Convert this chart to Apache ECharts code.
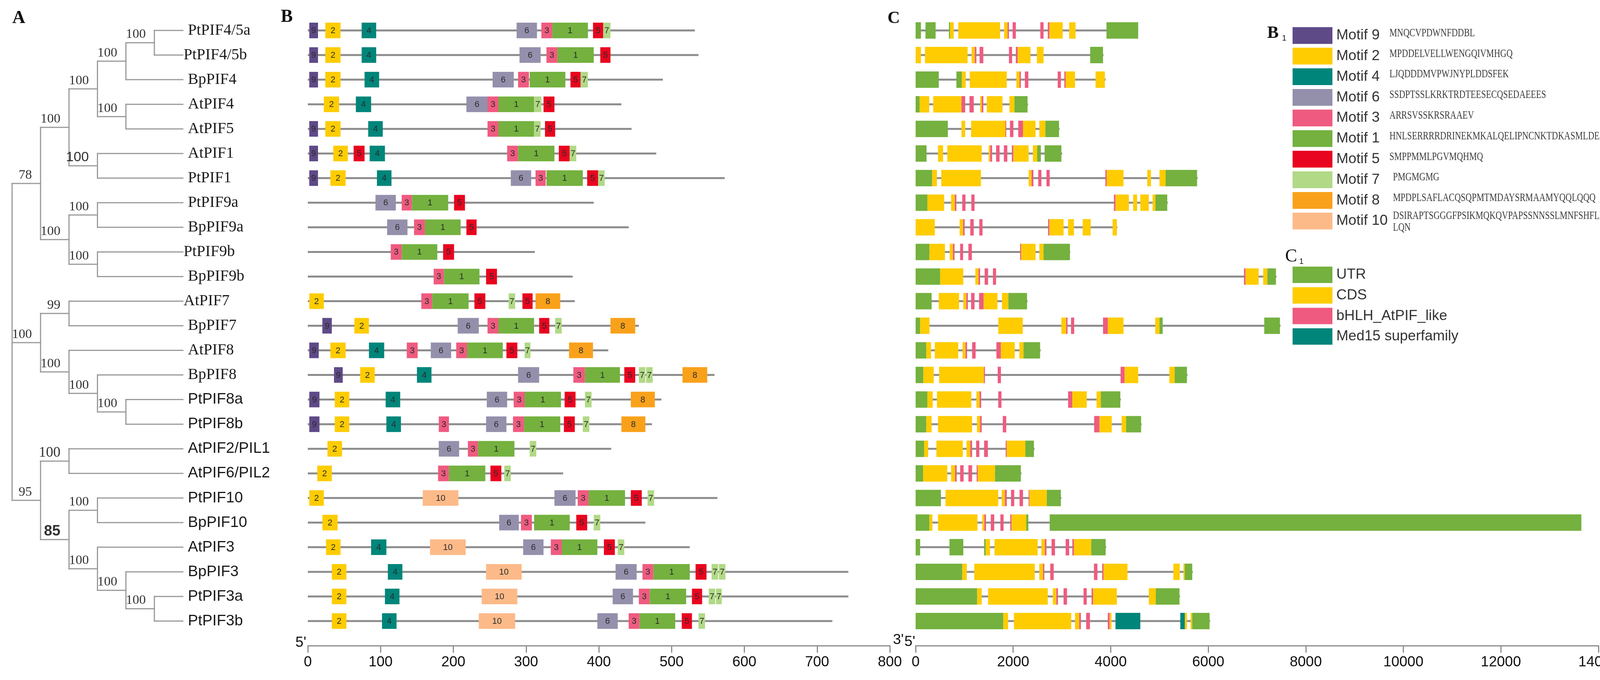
<!DOCTYPE html>
<html>
<head>
<meta charset="utf-8">
<title>PIF family: tree, motifs and gene structure</title>
<script src="https://cdn.jsdelivr.net/npm/echarts@6/dist/echarts.min.js"></script>
<style>
html,body{margin:0;padding:0;background:#fff;}
#chart{width:4310px;height:1742px;}
</style>
</head>
<body>
<div id="chart"></div>
<script>
// ---------------- data ----------------
var geneNames = ['PtPIF4/5a','PtPIF4/5b','BpPIF4','AtPIF4','AtPIF5','AtPIF1','PtPIF1',
	'PtPIF9a','BpPIF9a','PtPIF9b','BpPIF9b','AtPIF7','BpPIF7','AtPIF8','BpPIF8',
	'PtPIF8a','PtPIF8b','AtPIF2/PIL1','AtPIF6/PIL2','PtPIF10','BpPIF10','AtPIF3',
	'BpPIF3','PtPIF3a','PtPIF3b'];

// protein length (aa)
var proteinLength = [532,537,488,431,445,479,573,393,441,312,364,367,455,413,559,486,473,417,351,563,464,525,743,743,721];

// motifs per protein: [motif, start, end] (aa)
var proteinMotifs = [
	[[9,2,14],[2,24,45],[4,74,94],[6,287,315],[3,321,336],[1,336,385],[5,392,406],[7,406,416]],
	[[9,2,14],[2,24,45],[4,74,94],[6,291,320],[3,328,343],[1,343,393],[5,402,416]],
	[[9,2,14],[2,24,45],[4,78,98],[6,254,283],[3,289,304],[1,305,354],[5,361,375],[7,375,385]],
	[[2,22,43],[4,66,87],[6,218,247],[3,247,262],[1,262,311],[7,311,321],[5,324,339]],
	[[9,2,14],[2,24,45],[4,83,103],[3,247,262],[1,262,311],[7,311,320],[5,326,340]],
	[[9,2,14],[2,35,55],[5,63,78],[4,85,106],[3,274,289],[1,289,339],[5,345,360],[7,360,369]],
	[[9,2,14],[2,31,52],[4,95,115],[6,279,307],[3,313,327],[1,328,378],[5,384,399],[7,399,408]],
	[[6,93,121],[3,129,143],[1,143,193],[5,201,216]],
	[[6,109,137],[3,146,161],[1,161,210],[5,218,232]],
	[[3,114,129],[1,129,178],[5,186,201]],
	[[3,173,187],[1,187,236],[5,245,260]],
	[[2,2,22],[3,156,171],[1,171,221],[5,229,244],[7,276,285],[5,295,309],[8,313,347]],
	[[9,20,33],[2,64,84],[6,206,235],[3,247,262],[1,262,311],[5,318,332],[7,340,349],[8,416,450]],
	[[9,2,15],[2,31,52],[4,84,105],[3,136,151],[6,169,197],[3,204,219],[1,219,268],[5,273,288],[7,298,306],[8,359,392]],
	[[9,36,48],[2,72,92],[4,150,170],[6,289,318],[3,365,381],[1,381,429],[5,435,450],[7,455,464],[7,465,474],[8,515,549]],
	[[9,2,16],[2,37,57],[4,107,127],[6,246,274],[3,283,298],[1,298,348],[5,353,368],[7,381,390],[8,444,477]],
	[[9,2,16],[2,37,57],[4,108,128],[3,180,194],[6,245,273],[3,282,297],[1,297,347],[5,352,367],[7,378,387],[8,431,464]],
	[[2,27,47],[6,180,208],[3,220,234],[1,234,284],[7,305,314]],
	[[2,13,33],[3,179,194],[1,194,244],[5,251,266],[7,270,279]],
	[[2,2,22],[10,158,207],[6,339,368],[3,371,386],[1,386,436],[5,444,459],[7,467,476]],
	[[2,20,41],[6,263,290],[3,293,308],[1,311,360],[5,369,384],[7,393,402]],
	[[2,25,45],[4,87,108],[10,168,217],[6,296,324],[3,334,349],[1,349,398],[5,407,422],[7,426,435]],
	[[2,33,53],[4,110,130],[10,245,294],[6,423,452],[3,460,475],[1,475,525],[5,533,548],[7,555,564],[7,565,574]],
	[[2,33,53],[4,106,126],[10,239,288],[6,419,447],[3,455,470],[1,470,520],[5,528,542],[7,551,560],[7,561,569]],
	[[2,33,53],[4,102,122],[10,235,285],[6,398,426],[3,441,456],[1,456,505],[5,514,528],[7,537,546]]
];

// gene length (bp)
var geneLength = [4563,3852,3896,2306,2951,3005,5782,5170,4136,3170,7399,2295,7481,2563,5574,4208,4634,2437,2169,2989,13650,3907,5683,5421,6038];

// gene parts: [type, start, end] (bp); type 0 UTR, 1 CDS, 2 bHLH_AtPIF_like, 3 Med15
var geneParts = [
	[[0,0,109],[0,202,410],[0,683,705],[1,705,781],[1,874,1732],[1,1814,1885],[2,1885,1913],[2,1989,2055],[2,2557,2623],[2,2710,2743],[1,2743,3016],[1,3148,3279],[0,3913,4563]],
	[[1,0,109],[1,191,1066],[1,1148,1213],[2,1213,1246],[2,1311,1388],[2,1913,1978],[2,2055,2093],[1,2093,2355],[1,2486,2623],[0,3579,3842]],
	[[0,0,475],[0,836,945],[1,945,1027],[1,1109,1869],[1,2066,2131],[2,2131,2158],[2,2240,2311],[2,2913,2978],[2,3049,3077],[1,3077,3268],[1,3689,3880]],
	[[0,0,82],[1,82,279],[1,361,940],[2,940,1016],[2,1104,1191],[1,1322,1355],[2,1355,1388],[1,1459,1781],[1,1923,2027],[0,2027,2295]],
	[[0,0,661],[1,940,1016],[1,1137,1842],[2,1842,1858],[2,1934,2005],[2,2104,2202],[1,2202,2459],[1,2536,2661],[0,2661,2940]],
	[[0,0,224],[1,459,563],[1,650,1355],[1,1497,1530],[2,1530,1568],[2,1650,1721],[2,1809,1880],[2,1973,2005],[1,2005,2317],[1,2404,2492],[0,2492,2568],[0,2645,2989]],
	[[0,0,339],[1,339,437],[1,525,1339],[1,2317,2377],[2,2377,2415],[2,2514,2579],[2,2683,2749],[2,3891,3918],[1,3918,4262],[1,4749,4825],[1,5000,5126],[0,5126,5771]],
	[[0,0,240],[1,240,585],[1,727,803],[2,803,836],[2,956,1022],[2,1142,1208],[2,4066,4098],[1,4098,4372],[1,4459,4541],[1,4607,4781],[1,4858,4918],[0,4918,5159]],
	[[1,0,393],[1,902,973],[2,973,1005],[2,1120,1191],[2,1306,1372],[2,2716,2743],[1,2743,3033],[1,3126,3246],[1,3426,3590],[1,4038,4126]],
	[[0,0,284],[1,284,601],[1,699,765],[2,765,798],[2,913,973],[2,1082,1153],[2,2142,2164],[1,2164,2459],[1,2536,2623],[0,2623,3164]],
	[[0,0,503],[1,503,978],[1,1224,1290],[2,1290,1322],[2,1415,1486],[2,1585,1650],[2,6732,6765],[1,6765,7033],[1,7126,7213],[0,7213,7388]],
	[[0,0,328],[1,475,891],[1,978,1038],[2,1038,1071],[2,1137,1208],[2,1301,1393],[1,1393,1678],[1,1770,1902],[0,1902,2284]],
	[[0,0,93],[1,93,284],[1,1694,2197],[1,2989,3087],[2,3087,3115],[2,3186,3251],[2,3842,3940],[1,3940,4262],[1,4913,5000],[0,5000,5066],[0,7148,7470]],
	[[0,0,219],[1,219,317],[1,393,874],[1,962,1022],[2,1022,1055],[2,1158,1230],[2,1656,1749],[1,1749,2033],[1,2126,2213],[0,2213,2552]],
	[[0,0,158],[1,158,372],[1,481,1399],[2,1399,1421],[2,1683,1749],[2,4202,4284],[1,4284,4563],[1,5202,5311],[0,5311,5563]],
	[[0,0,240],[1,240,350],[1,437,1142],[1,1246,1311],[2,1311,1344],[2,1694,1760],[2,3126,3213],[1,3213,3508],[1,3710,3798],[0,3798,4197]],
	[[0,0,219],[1,219,328],[1,459,1158],[1,1257,1322],[2,1322,1355],[2,1787,1858],[2,3661,3770],[1,3770,4022],[1,4224,4317],[0,4317,4623]],
	[[0,0,175],[1,175,257],[1,426,967],[1,1044,1120],[2,1120,1158],[2,1240,1306],[2,1404,1481],[2,1847,1869],[1,1869,2251],[0,2251,2426]],
	[[0,0,153],[1,153,650],[1,727,809],[2,809,842],[2,913,984],[2,1082,1158],[2,1251,1273],[1,1273,1628],[0,1628,2158]],
	[[0,0,519],[1,612,1694],[1,1765,1831],[2,1831,1869],[2,1956,2022],[2,2131,2202],[2,2317,2333],[1,2333,2689],[0,2689,2978]],
	[[0,0,284],[1,284,344],[1,459,1268],[1,1366,1410],[2,1410,1443],[2,1541,1612],[2,1738,1803],[2,1940,1967],[1,1967,2268],[0,2268,2311],[0,2749,13650]],
	[[0,0,93],[0,694,978],[0,1404,1437],[1,1437,1525],[1,1617,2503],[1,2579,2650],[2,2650,2683],[2,2787,2858],[2,3076,3148],[2,3213,3246],[1,3246,3601],[0,3601,3896]],
	[[0,0,956],[1,956,1049],[1,1202,2443],[1,2536,2612],[2,2612,2639],[2,2760,2831],[2,3656,3727],[2,3825,3852],[1,3852,4344],[1,5284,5415],[1,5492,5519],[0,5519,5672]],
	[[0,0,1262],[1,1262,1355],[1,1486,2710],[1,2814,2885],[2,2885,2918],[2,3033,3104],[2,3443,3508],[2,3607,3639],[1,3639,4126],[1,4781,4924],[0,4924,5410]],
	[[0,0,1798],[1,1798,1896],[1,2016,3191],[1,3268,3355],[2,3355,3388],[2,3497,3574],[2,3940,3978],[1,3978,4016],[3,4098,4607],[3,5426,5519],[1,5519,5563],[1,5639,5672],[0,5672,6027]]
];

// tree: [clade, depth level, bootstrap, children]; numbers are rows of geneNames
var treeClades = [
	['n1', 5, 100, [0, 1]],
	['n2', 4, 100, ['n1', 2]],
	['n3', 4, 100, [3, 4]],
	['n4', 3, 100, ['n2', 'n3']],
	['n5', 3, 100, [5, 6]],
	['n6', 2, 100, ['n4', 'n5']],
	['n7', 3, 100, [7, 8]],
	['n8', 3, 100, [9, 10]],
	['n9', 2, 100, ['n7', 'n8']],
	['n10', 1, 78, ['n6', 'n9']],
	['n11', 2, 99, [11, 12]],
	['n12', 4, 100, [15, 16]],
	['n13', 3, 100, [14, 'n12']],
	['n14', 2, 100, [13, 'n13']],
	['n15', 1, 100, ['n11', 'n14']],
	['n16', 2, 100, [17, 18]],
	['n17', 3, 100, [19, 20]],
	['n18', 5, 100, [23, 24]],
	['n19', 4, 100, [22, 'n18']],
	['n20', 3, 100, [21, 'n19']],
	['n21', 2, 85, ['n17', 'n20']],
	['n22', 1, 95, ['n16', 'n21']],
	['root', 0, null, ['n10', 'n15', 'n22']]
];
var tipLevel = 6;

// legend B1
var motifOrder = [9, 2, 4, 6, 3, 1, 5, 7, 8, 10];
var motifSeq = {
	9:'MNQCVPDWNFDDBL',
	2:'MPDDELVELLWENGQIVMHGQ',
	4:'LJQDDDMVPWJNYPLDDSFEK',
	6:'SSDPTSSLKRKTRDTEESECQSEDAEEES',
	3:'ARRSVSSKRSRAAEV',
	1:'HNLSERRRRDRINEKMKALQELIPNCNKTDKASMLDEAIEYLKSLQLQ',
	5:'SMPPMMLPGVMQHMQ',
	7:'PMGMGMG',
	8:'MPDPLSAFLACQSQPMTMDAYSRMAAMYQQLQQQ',
	10:'DSIRAPTSGGGFPSIKMQKQVPAPSSNNSSLMNFSHFLRPAALVKANLQN'
};
// legend C1
var partNames = ['UTR', 'CDS', 'bHLH_AtPIF_like', 'Med15 superfamily'];

// ---------------- styles ----------------
var motifColor = {1:'#74b13f',2:'#fecc00',3:'#ef5b80',4:'#00857a',5:'#e8051f',
	6:'#9490ac',7:'#b1d986',8:'#f9a11b',9:'#5e4a87',10:'#fdba89'};
var partColor = ['#74b13f', '#fecc00', '#ef5b80', '#00857a'];
var SERIF = '"Liberation Serif","Times New Roman",serif';
var SANS = '"Liberation Sans",Arial,sans-serif';
var LINE_GRAY = '#8c8c8c';

// ---------------- tree geometry ----------------
var cladeById = {};
treeClades.forEach(function(c){ cladeById[c[0]] = c; });
function levelOf(n){ return typeof n === 'number' ? tipLevel : cladeById[n][1]; }
var yCache = {};
function yOf(n){
	if(typeof n === 'number'){ return n; }
	if(yCache[n] != null){ return yCache[n]; }
	var ch = cladeById[n][3];
	yCache[n] = (yOf(ch[0]) + yOf(ch[ch.length - 1])) / 2;
	return yCache[n];
}
var branchData = [];
var bootData = [];
treeClades.forEach(function(c, i){
	var ch = c[3];
	branchData.push([c[1], yOf(ch[0]), c[1], yOf(ch[ch.length - 1])]);
	ch.forEach(function(k){
		branchData.push([c[1], yOf(k), levelOf(k), yOf(k)]);
	});
	if(c[2] != null){
		bootData.push([c[1], yOf(c[0]), c[2], i]);
	}
});
var tipData = geneNames.map(function(n, i){ return [tipLevel, i]; });

// ---------------- flattened mark data ----------------
var backboneAa = proteinLength.map(function(len, i){ return [0, i, len]; });
var motifData = [];
proteinMotifs.forEach(function(list, row){
	list.forEach(function(m){ motifData.push([m[1], row, m[2], m[0]]); });
});
var backboneBp = geneLength.map(function(len, i){ return [0, i, len]; });
var partData = [];
geneParts.forEach(function(list, row){
	list.forEach(function(p){ partData.push([p[1], row, p[2], p[0]]); });
});

// ---------------- renderers ----------------
function renderBranch(params, api){
	var a = api.coord([api.value(0), api.value(1)]);
	var b = api.coord([api.value(2), api.value(3)]);
	return {type:'line', shape:{x1:a[0], y1:a[1], x2:b[0], y2:b[1]},
		style:{stroke:'#9a9a9a', lineWidth:3, lineCap:'square'}};
}
function renderTip(params, api){
	var i = params.dataIndex;
	var p = api.coord([api.value(0), api.value(1)]);
	var tight = (i === 1 || i === 9 || i === 11);
	var serif = i < 15;
	return {type:'text', style:{text:geneNames[i], x:p[0] + (tight ? 2 : 13), y:p[1],
		textAlign:'left', textVerticalAlign:'middle', align:'left', verticalAlign:'middle',
		font:(serif ? '40px ' + SERIF : '39px ' + SANS), fill:'#1a1a1a'}};
}
function renderBoot(params, api){
	var p = api.coord([api.value(0), api.value(1)]);
	var id = treeClades[api.value(3)][0];
	var font = '34px ' + SERIF;
	if(id === 'n5'){ font = '35px ' + SANS; }
	if(id === 'n21'){ font = 'bold 38px ' + SANS; }
	if(id === 'n16'){ font = '37px ' + SERIF; }
	return {type:'text', style:{text:String(api.value(2)), x:p[0] - 22, y:p[1] - 21,
		textAlign:'right', textVerticalAlign:'middle', align:'right', verticalAlign:'middle',
		font:font, fill:'#333'}};
}
function renderBackbone(params, api){
	var a = api.coord([api.value(0), api.value(1)]);
	var b = api.coord([api.value(2), api.value(1)]);
	return {type:'line', shape:{x1:a[0], y1:a[1], x2:b[0], y2:b[1]},
		style:{stroke:LINE_GRAY, lineWidth:5}};
}
function boxRenderer(h, colorOf, labelOf){
	return function(params, api){
		var a = api.coord([api.value(0), api.value(1)]);
		var b = api.coord([api.value(2), api.value(1)]);
		var kind = api.value(3);
		var kids = [{type:'rect', shape:{x:a[0], y:a[1] - h / 2, width:Math.max(b[0] - a[0], 1.5), height:h},
			style:{fill:colorOf(kind)}}];
		if(labelOf){
			kids.push({type:'text', style:{text:labelOf(kind), x:(a[0] + b[0]) / 2, y:a[1] + 1,
				textAlign:'center', textVerticalAlign:'middle', align:'center', verticalAlign:'middle',
				font:'22px ' + SANS, fill:'#2b2b2b'}});
		}
		return {type:'group', children:kids};
	};
}

// ---------------- graphic (panel letters, legends, ends) ----------------
function txt(x, y, s, font, align, color, sy){
	return {type:'text', x:x, y:y, scaleY:sy || 1, style:{text:s, font:font, textAlign:align || 'left',
		textVerticalAlign:'middle', align:align || 'left', verticalAlign:'middle', fill:color || '#111'}};
}
var graphics = [
	txt(48, 47, 'A', 'bold 46px ' + SERIF, 'center'),
	txt(734, 44, 'B', 'bold 46px ' + SERIF, 'center'),
	txt(2288, 48, 'C', 'bold 44px ' + SERIF, 'center'),
	txt(3244, 86, 'B', 'bold 44px ' + SERIF),
	txt(3282, 98, '1', '20px ' + SANS),
	txt(3290, 658, 'C', '46px ' + SERIF),
	txt(3326, 670, '1', '20px ' + SANS),
	txt(784, 1647, "5'", '37px ' + SANS, 'right'),
	txt(2286, 1640, "3'", '37px ' + SANS),
	txt(2343, 1645, "5'", '37px ' + SANS, 'right'),
	txt(4102, 1644, "3'", '37px ' + SANS)
];
motifOrder.forEach(function(m, k){
	var cy = 91 + k * 52.8;
	graphics.push({type:'rect', shape:{x:3309, y:cy - 21.5, width:102, height:43}, style:{fill:motifColor[m]}});
	graphics.push(txt(3421, cy, 'Motif ' + m, '37px ' + SANS, 'left', '#333'));
	var seq = motifSeq[m];
	if(seq.length > 48){
		graphics.push(txt(3566, cy - 13, seq.slice(0, 47), '22px ' + SERIF, 'left', '#3a3a3a', 1.35));
		graphics.push(txt(3566, cy + 17, seq.slice(47), '22px ' + SERIF, 'left', '#3a3a3a', 1.35));
	}else{
		graphics.push(txt(m === 7 || m === 8 ? 3566 : 3557, cy - 6, seq, '22px ' + SERIF, 'left', '#3a3a3a', 1.35));
	}
});
partNames.forEach(function(n, k){
	var cy = 704 + k * 52.7;
	graphics.push({type:'rect', shape:{x:3309, y:cy - 21, width:102, height:42}, style:{fill:partColor[k]}});
	graphics.push(txt(3421, cy, n, '37px ' + SANS, 'left', '#333'));
});

// ---------------- chart ----------------
var axisCommon = {
	axisLine:{show:true, onZero:false, lineStyle:{color:LINE_GRAY, width:3}},
	axisTick:{show:true, inside:false, length:18, lineStyle:{color:LINE_GRAY, width:3}},
	axisLabel:{fontSize:37, fontFamily:SANS, color:'#111', margin:24,
		formatter:function(v){ return String(v); }},
	splitLine:{show:false}
};
var yCommon = {type:'value', inverse:true, min:-1, max:25, show:false};

var chart = echarts.init(document.getElementById('chart'), null, {renderer:'canvas'});
chart.setOption({
	backgroundColor:'#fff',
	animation:false,
	grid:[
		{left:31, width:437, top:15, bottom:88},
		{left:788, width:1490, top:15, bottom:88},
		{left:2344, width:1748, top:15, bottom:88}
	],
	xAxis:[
		{type:'value', gridIndex:0, min:0, max:tipLevel, show:false},
		echarts.util.merge({type:'value', gridIndex:1, min:0, max:800, interval:100}, axisCommon, true),
		echarts.util.merge({type:'value', gridIndex:2, min:0, max:14000, interval:2000}, axisCommon, true)
	],
	yAxis:[
		echarts.util.merge({gridIndex:0}, yCommon, true),
		echarts.util.merge({gridIndex:1}, yCommon, true),
		echarts.util.merge({gridIndex:2}, yCommon, true)
	],
	graphic:graphics,
	series:[
		{type:'custom', name:'branches', xAxisIndex:0, yAxisIndex:0, clip:false,
			encode:{x:[0, 2], y:[1, 3]}, data:branchData, renderItem:renderBranch},
		{type:'custom', name:'tips', xAxisIndex:0, yAxisIndex:0, clip:false,
			encode:{x:0, y:1}, data:tipData, renderItem:renderTip},
		{type:'custom', name:'bootstrap', xAxisIndex:0, yAxisIndex:0, clip:false,
			encode:{x:0, y:1}, data:bootData, renderItem:renderBoot},
		{type:'custom', name:'protein', xAxisIndex:1, yAxisIndex:1, clip:false,
			encode:{x:[0, 2], y:1}, data:backboneAa, renderItem:renderBackbone},
		{type:'custom', name:'motifs', xAxisIndex:1, yAxisIndex:1, clip:false,
			encode:{x:[0, 2], y:1}, data:motifData,
			renderItem:boxRenderer(40, function(k){ return motifColor[k]; }, function(k){ return String(k); })},
		{type:'custom', name:'gene', xAxisIndex:2, yAxisIndex:2, clip:false,
			encode:{x:[0, 2], y:1}, data:backboneBp, renderItem:renderBackbone},
		{type:'custom', name:'parts', xAxisIndex:2, yAxisIndex:2, clip:false,
			encode:{x:[0, 2], y:1}, data:partData,
			renderItem:boxRenderer(42, function(k){ return partColor[k]; }, null)}
	]
});
</script>
</body>
</html>
